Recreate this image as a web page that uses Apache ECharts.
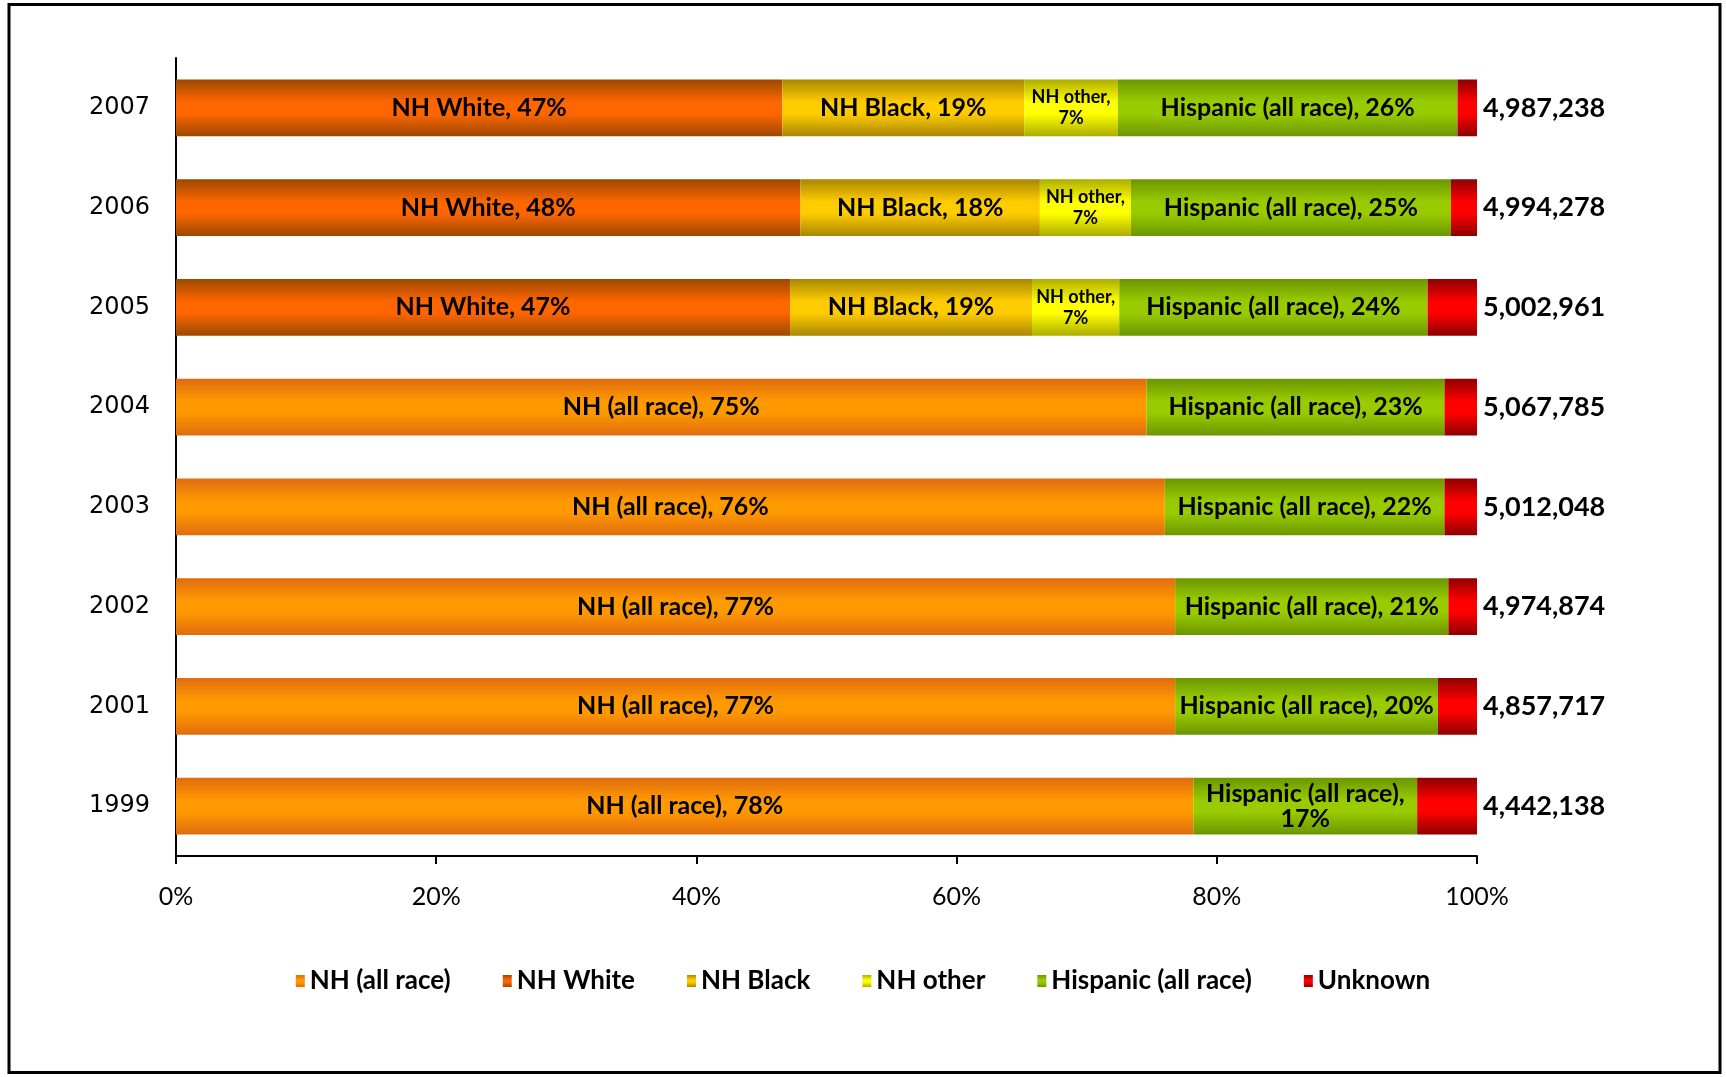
<!DOCTYPE html>
<html>
<head>
<meta charset="utf-8">
<script src="https://cdn.jsdelivr.net/npm/echarts@6/dist/echarts.min.js"></script>
<style>
  html, body { margin: 0; padding: 0; background: #fff; }
  #chart { width: 1726px; height: 1077px; }
</style>
</head>
<body>
<div id="chart"></div>
<script>
// Years, bottom to top
const years = ['1999', '2001', '2002', '2003', '2004', '2005', '2006', '2007'];

// Shares of each group, in percent of the year's total
const nhAllRace = [78.2, 76.8, 76.8, 76.0, 74.6, null, null, null];
const nhWhite   = [null, null, null, null, null, 47.2, 48.0, 46.6];
const nhBlack   = [null, null, null, null, null, 18.6, 18.4, 18.6];
const nhOther   = [null, null, null, null, null, 6.7, 7.0, 7.2];
const hispanic  = [17.2, 20.2, 21.0, 21.5, 22.9, 23.7, 24.6, 26.1];
const unknown   = [4.6, 3.0, 2.2, 2.5, 2.5, 3.8, 2.0, 1.5];

// Total count per year, printed at the end of each bar
const totals = [4442138, 4857717, 4974874, 5012048, 5067785, 5002961, 4994278, 4987238];

const xTicks = { min: 0, max: 100, interval: 20 };

function band(dark, bright) {
  return new echarts.graphic.LinearGradient(0, 0, 0, 1, [
    { offset: 0, color: dark },
    { offset: 0.4, color: bright },
    { offset: 0.6, color: bright },
    { offset: 1, color: dark }
  ]);
}

const labelFont = {
  fontFamily: 'Lato',
  fontWeight: 'bold',
  fontSize: 25,
  color: '#000'
};

function pctLabel(name) {
  return function (p) {
    const v = Math.round(p.value);
    return name + ', ' + v + '%';
  };
}

function seg(name, data, dark, bright, label) {
  return {
    name: name,
    type: 'bar',
    stack: 'all',
    data: data,
    barWidth: '57%',
    itemStyle: { color: band(dark, bright) },
    label: label,
    emphasis: { disabled: true }
  };
}

const chart = echarts.init(document.getElementById('chart'), null, { renderer: 'canvas' });

chart.setOption({
  animation: false,
  backgroundColor: '#fff',
  graphic: [{
    type: 'rect',
    shape: { x: 9, y: 4.5, width: 1711, height: 1068 },
    style: { fill: null, stroke: '#000', lineWidth: 3 },
    silent: true
  }],
  grid: { left: 176, right: 249, top: 58, bottom: 221, containLabel: false },
  legend: {
    bottom: 78,
    left: 'center',
    itemWidth: 9,
    itemHeight: 12,
    itemGap: 52,
    textStyle: { fontFamily: 'Lato', fontWeight: 'bold', fontSize: 26, color: '#000', padding: [0, 0, 0, 0] },
    data: ['NH (all race)', 'NH White', 'NH Black', 'NH other', 'Hispanic (all race)', 'Unknown'].map(n => ({ name: n, icon: 'rect' }))
  },
  xAxis: {
    type: 'value',
    min: xTicks.min,
    max: xTicks.max,
    interval: xTicks.interval,
    axisLine: { show: true, lineStyle: { color: '#000', width: 2 } },
    axisTick: { show: true, length: 8, lineStyle: { color: '#000', width: 2 } },
    splitLine: { show: false },
    axisLabel: {
      formatter: '{value}%',
      margin: 28,
      fontFamily: 'Lato',
      fontSize: 25,
      color: '#000'
    }
  },
  yAxis: {
    type: 'category',
    data: years,
    axisLine: { show: true, lineStyle: { color: '#000', width: 2 } },
    axisTick: { show: false },
    axisLabel: {
      margin: 26,
      fontFamily: 'DejaVu Sans',
      fontSize: 24,
      color: '#000',
      padding: [4, 0, 0, 0]
    }
  },
  series: [
    seg('NH (all race)', nhAllRace, '#E06C10', '#FF9900',
      Object.assign({ show: true, position: 'inside', formatter: pctLabel('NH (all race)') }, labelFont)),
    seg('NH White', nhWhite, '#9C4800', '#FF6600',
      Object.assign({ show: true, position: 'inside', formatter: pctLabel('NH White') }, labelFont)),
    seg('NH Black', nhBlack, '#A88700', '#FFCC00',
      Object.assign({ show: true, position: 'inside', formatter: pctLabel('NH Black') }, labelFont)),
    seg('NH other', nhOther, '#ADAD00', '#FFFF00',
      Object.assign({}, labelFont, {
        show: true, position: 'inside', fontSize: 18, lineHeight: 21,
        formatter: p => 'NH other,\n' + Math.round(p.value) + '%'
      })),
    seg('Hispanic (all race)', hispanic, '#6B9600', '#99CC00',
      Object.assign({}, labelFont, {
        show: true, position: 'inside', lineHeight: 25,
        formatter: p => {
          const v = Math.round(p.value);
          return p.value < 18 ? 'Hispanic (all race),\n' + v + '%' : 'Hispanic (all race), ' + v + '%';
        }
      })),
    seg('Unknown', unknown, '#8E0000', '#FF0000', {
      show: true,
      position: 'right',
      distance: 6,
      fontFamily: 'Lato',
      fontWeight: 'bold',
      fontSize: 27,
      color: '#000',
      formatter: p => totals[p.dataIndex].toLocaleString('en-US')
    })
  ]
});
</script>
</body>
</html>
